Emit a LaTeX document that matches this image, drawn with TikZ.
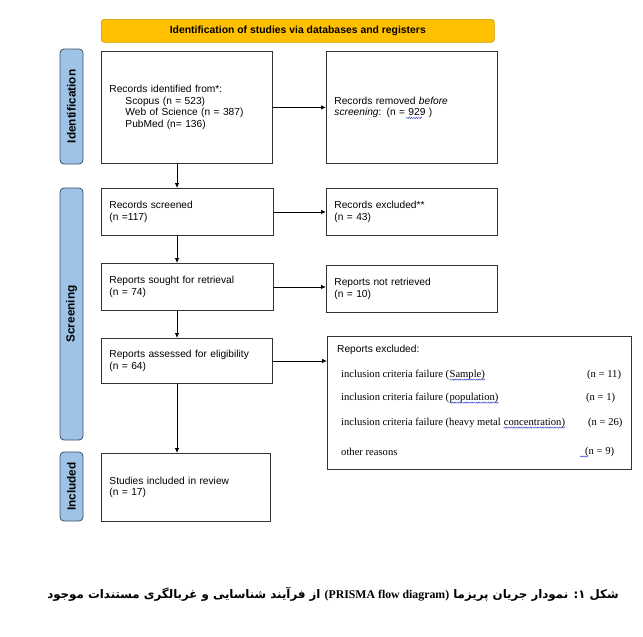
\documentclass[tikz,border=0pt]{standalone}
\usepackage{fontspec}
\setmainfont{Liberation Sans}
\newfontfamily\timesfont{Liberation Serif}
\newfontfamily\arabicfont[Script=Arabic]{DejaVu Sans}
\TeXXeTstate=1
\usetikzlibrary{arrows.meta,decorations.pathmorphing}

\definecolor{phasefill}{HTML}{9DC3E6}
\definecolor{phaseedge}{HTML}{3A4F66}
\definecolor{headfill}{HTML}{FFC000}
\definecolor{headedge}{HTML}{C99700}
\definecolor{boxedge}{HTML}{333333}
\definecolor{spellblue}{HTML}{2F3FC8}

\begin{document}
\begin{tikzpicture}[x=1pt, y=-1pt,
                    font=\fontsize{10.2}{11.6}\selectfont,
                    box/.style={draw=boxedge, line width=0.9pt, align=left, inner xsep=8pt,
                                anchor=north west},
                    phase/.style={draw=phaseedge, fill=phasefill, line width=0.8pt, rounded corners=4pt,
                                  rotate=90, minimum height=23pt, inner sep=0pt, font=\fontsize{11.8}{13}\selectfont\bfseries},
                    head/.style={draw=headedge, fill=headfill, line width=0.6pt, rounded corners=3pt,
                                 anchor=north west, minimum width=393pt, minimum height=23pt, inner sep=0pt,
                                 font=\fontsize{10.4}{12}\selectfont\bfseries},
                    item/.style={anchor=west, inner sep=0pt, font=\fontsize{10.6}{12}\selectfont\timesfont},
                    word/.style={anchor=base west, inner sep=0pt, font=\fontsize{10.6}{12}\selectfont\timesfont},
                    squig/.style={spellblue, line width=0.45pt, decorate,
                                  decoration={snake, amplitude=0.6pt, segment length=2.4pt}},
                    flow/.style={line width=0.8pt, black, -{Latex[length=5pt, width=4.5pt]}}
                ]
\useasboundingbox (0,0) rectangle (643,637);

% header
\node[head] (head) at (101,19) {Identification of studies via databases and registers};

% phase bars
\node[phase, minimum width=115pt] (ph1) at (71.5,106.5) {Identification};
\node[phase, minimum width=252pt] (ph2) at (71.5,314) {Screening};
\node[phase, minimum width=69pt] (ph3) at (71.5,486.5) {Included};

% identification
\node[box, text width=155pt, minimum height=112pt] (ident) at (101,51)
  {Records identified from*:\\
   \hspace*{16pt}Scopus (n = 523)\\
   \hspace*{16pt}Web of Science (n = 387)\\
   \hspace*{16pt}PubMed (n= 136)};
\node[box, text width=155pt, minimum height=112pt] (removed) at (326,51)
  {Records removed \textit{before}\\ \textit{screening}: (n = 929 )};
\draw[squig] (406,118) -- (422,118);

% screening
\node[box, text width=156pt, minimum height=47pt] (screened) at (101,188)
  {Records screened\\(n =117)};
\node[box, text width=155pt, minimum height=47pt] (excluded) at (326,188)
  {Records excluded**\\(n = 43)};
\node[box, text width=156pt, minimum height=47pt] (sought) at (101,263)
  {Reports sought for retrieval\\(n = 74)};
\node[box, text width=155pt, minimum height=47pt] (notret) at (326,265)
  {Reports not retrieved\\(n = 10)};
\node[box, text width=155pt, minimum height=45pt] (assessed) at (101,338)
  {Reports assessed for eligibility\\(n = 64)};

% reports excluded
\node[box, text width=288pt, minimum height=133pt] (repexcl) at (327,336) {};
\node[anchor=west, inner sep=0pt] (rx) at (337,350) {Reports excluded:};
\node[item] (r1) at (341,375) {inclusion criteria failure (};
\node[word] (w1) at (r1.base east) {Sample)\hspace{4pt}};
\node[item] (n1) at (587,375) {(n = 11)};
\node[item] (r2) at (341,398) {inclusion criteria failure (};
\node[word] (w2) at (r2.base east) {population)\hspace{4pt}};
\node[item] (n2) at (586,398) {(n = 1)};
\node[item] (r3) at (341,423) {inclusion criteria failure (heavy metal};
\node[word] (w3) at ([xshift=2.7pt]r3.base east) {concentration)\hspace{4pt}};
\node[item] (n3) at (588,423) {(n = 26)};
\node[item] (r4) at (341,452) {other reasons};
\node[item] (n4) at (585,452) {(n = 9)};
\draw[squig] ([yshift=-2pt]w1.base west) -- ([yshift=-2pt]w1.base east);
\draw[squig] ([yshift=-2pt]w2.base west) -- ([yshift=-2pt]w2.base east);
\draw[squig] ([yshift=-2pt]w3.base west) -- ([yshift=-2pt]w3.base east);
\draw[squig] ([xshift=-5pt,yshift=-2pt]n4.base west) -- ([xshift=3pt,yshift=-2pt]n4.base west);

% included
\node[box, text width=153pt, minimum height=68pt] (included) at (101,453)
  {Studies included in review\\(n = 17)};

% connectors
\coordinate (ax) at (177,0);
\draw[flow] (ident.south -| ax) -- (screened.north -| ax);
\draw[flow] (screened.south -| ax) -- (sought.north -| ax);
\draw[flow] (sought.south -| ax) -- (assessed.north -| ax);
\draw[flow] (assessed.south -| ax) -- (included.north -| ax);
\draw[flow] (ident.east) -- (removed.west);
\draw[flow] (screened.east) -- (excluded.west);
\draw[flow] (sought.east) -- (sought.east -| notret.west);
\draw[flow] (assessed.east) -- (assessed.east -| repexcl.west);

% caption
\node[inner sep=0pt, font=\fontsize{11.8}{13}\selectfont\bfseries] (cap) at (333,594)
  {\arabicfont\beginR شکل ۱: نمودار جریان پریزما \beginL{\timesfont (PRISMA flow diagram)}\endL{} از فرآیند شناسایی و غربالگری مستندات موجود\endR};

\end{tikzpicture}
\end{document}
